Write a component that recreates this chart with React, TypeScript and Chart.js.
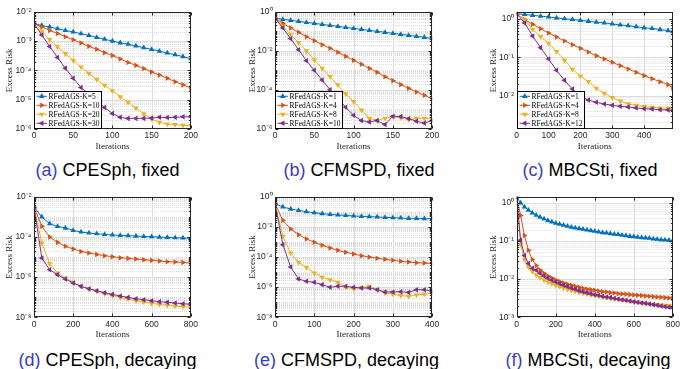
import React, { useEffect, useRef } from 'react';
import { Chart, registerables } from 'chart.js';

Chart.register(...registerables);

// ---------------- data ----------------
const itersA = [0, 10, 20, 30, 40, 50, 60, 70, 80, 90, 100, 110, 120, 130, 140, 150, 160, 170, 180, 190, 200];
const aK5 = [3.89e-3, 3.39e-3, 3.02e-3, 2.63e-3, 2.29e-3, 2.04e-3, 1.78e-3, 1.55e-3, 1.33e-3, 1.15e-3, 1.0e-3, 8.7e-4, 7.8e-4, 6.8e-4, 5.9e-4, 5.2e-4, 4.5e-4, 3.9e-4, 3.4e-4, 2.95e-4, 2.5e-4];
const aK10 = [3.89e-3, 3.02e-3, 2.29e-3, 1.82e-3, 1.41e-3, 1.11e-3, 8.5e-4, 6.6e-4, 5.2e-4, 4.0e-4, 3.2e-4, 2.45e-4, 1.86e-4, 1.48e-4, 1.15e-4, 8.7e-5, 6.9e-5, 5.4e-5, 4.1e-5, 3.2e-5, 2.5e-5];
const aK20 = [3.89e-3, 2.14e-3, 1.11e-3, 6.3e-4, 3.7e-4, 2.2e-4, 1.29e-4, 7.9e-5, 4.9e-5, 3.1e-5, 2.0e-5, 1.26e-5, 8.1e-6, 5.2e-6, 3.3e-6, 2.2e-6, 1.7e-6, 1.48e-6, 1.41e-6, 1.33e-6, 1.3e-6];
const aK30 = [3.89e-3, 1.6e-3, 6.5e-4, 2.75e-4, 1.17e-4, 5.4e-5, 2.6e-5, 1.55e-5, 9.8e-6, 5.4e-6, 3.4e-6, 2.5e-6, 2.3e-6, 2.3e-6, 2.3e-6, 2.37e-6, 2.5e-6, 2.45e-6, 2.5e-6, 2.6e-6, 2.6e-6];

const itersB = [0, 10, 20, 30, 40, 50, 60, 70, 80, 90, 100, 110, 120, 130, 140, 150, 160, 170, 180, 190, 200];
const bK1 = [0.474, 0.406, 0.361, 0.321, 0.285, 0.254, 0.225, 0.2, 0.178, 0.158, 0.141, 0.125, 0.111, 0.099, 0.088, 0.078, 0.0695, 0.0618, 0.055, 0.049, 0.0417];
const bK4 = [0.474, 0.254, 0.146, 0.0879, 0.0527, 0.033, 0.0206, 0.0134, 8.36e-3, 5.2e-3, 3.26e-3, 2.03e-3, 1.27e-3, 7.9e-4, 4.76e-4, 2.98e-4, 1.86e-4, 1.21e-4, 7.8e-5, 5.3e-5, 3.6e-5];
const bK8 = [0.474, 0.178, 0.0695, 0.026, 9.8e-3, 3.4e-3, 1.27e-3, 4.8e-4, 1.79e-4, 6.2e-5, 2.5e-5, 9.4e-6, 3.55e-6, 2.7e-6, 3.55e-6, 4.3e-6, 3.7e-6, 3.0e-6, 3.55e-6, 3.55e-6, 3.2e-6];
const bK10 = [0.474, 0.146, 0.0417, 0.0114, 3.13e-3, 1.0e-3, 3.2e-4, 1.03e-4, 3.6e-5, 1.3e-5, 5.0e-6, 2.7e-6, 2.3e-6, 2.7e-6, 1.68e-6, 4.5e-6, 4.3e-6, 3.4e-6, 2.5e-6, 2.0e-6, 2.7e-6];

const itersC = [0, 25, 50, 75, 100, 125, 150, 175, 200, 225, 250, 275, 300, 325, 350, 375, 400, 425, 450, 475, 490];
const cK1 = [1.38, 1.31, 1.25, 1.19, 1.13, 1.07, 1.02, 0.97, 0.92, 0.87, 0.83, 0.79, 0.74, 0.70, 0.67, 0.63, 0.59, 0.565, 0.53, 0.50, 0.47];
const cK4 = [1.38, 0.96, 0.726, 0.56, 0.43, 0.339, 0.267, 0.214, 0.172, 0.138, 0.110, 0.0906, 0.0741, 0.0607, 0.0497, 0.0406, 0.0333, 0.0277, 0.0232, 0.0194, 0.0158];
const cK8 = [1.38, 0.98, 0.537, 0.346, 0.232, 0.141, 0.0851, 0.0486, 0.0326, 0.0232, 0.0155, 0.0115, 8.87e-3, 7.26e-3, 6.07e-3, 5.6e-3, 5.16e-3, 4.97e-3, 4.77e-3, 4.68e-3, 4.58e-3];
const cK12 = [1.38, 0.787, 0.361, 0.179, 0.0906, 0.0458, 0.0251, 0.0149, 9.6e-3, 7.7e-3, 6.7e-3, 6.07e-3, 5.6e-3, 5.27e-3, 5.06e-3, 4.77e-3, 4.58e-3, 4.49e-3, 4.31e-3, 4.23e-3, 4.14e-3];

const itersD = [0, 40, 80, 120, 160, 200, 240, 280, 320, 360, 400, 440, 480, 520, 560, 600, 640, 680, 720, 760, 800];
const dK5 = [3.06e-3, 9.8e-4, 4.54e-4, 3.34e-4, 2.76e-4, 2.11e-4, 1.75e-4, 1.56e-4, 1.44e-4, 1.34e-4, 1.24e-4, 1.19e-4, 1.15e-4, 1.1e-4, 1.06e-4, 1.02e-4, 9.8e-5, 9.5e-5, 9.1e-5, 8.8e-5, 8.5e-5];
const dK10 = [3.06e-3, 3.34e-4, 9.8e-5, 5.35e-5, 3.39e-5, 2.5e-5, 1.9e-5, 1.57e-5, 1.35e-5, 1.16e-5, 1.04e-5, 9.2e-6, 8.55e-6, 7.9e-6, 7.35e-6, 6.8e-6, 6.3e-6, 5.8e-6, 5.6e-6, 5.4e-6, 5.0e-6];
const dK20 = [3.06e-3, 4.95e-5, 4.65e-6, 1.6e-6, 9.0e-7, 5.47e-7, 3.47e-7, 2.55e-7, 1.95e-7, 1.49e-7, 1.19e-7, 9.8e-8, 8.1e-8, 6.7e-8, 5.75e-8, 4.93e-8, 4.4e-8, 3.93e-8, 3.63e-8, 3.37e-8, 3.12e-8];
const dK30 = [3.06e-3, 8.9e-6, 2.33e-6, 1.31e-6, 8.0e-7, 5.07e-7, 3.46e-7, 2.65e-7, 2.1e-7, 1.67e-7, 1.38e-7, 1.14e-7, 9.8e-8, 8.4e-8, 7.5e-8, 6.7e-8, 5.97e-8, 5.53e-8, 5.13e-8, 4.75e-8, 4.4e-8];

const itersE = [0, 20, 40, 60, 80, 100, 120, 140, 160, 180, 200, 220, 240, 260, 280, 300, 320, 340, 360, 380, 400];
const eK1 = [0.343, 0.207, 0.152, 0.124, 0.101, 0.0869, 0.0747, 0.0675, 0.061, 0.0578, 0.0523, 0.0497, 0.0472, 0.0449, 0.0427, 0.0406, 0.0385, 0.0366, 0.0366, 0.0348, 0.0348];
const eK4 = [0.343, 0.027, 7.18e-3, 3.03e-3, 1.56e-3, 9.4e-4, 5.93e-4, 3.95e-4, 2.77e-4, 2.04e-4, 1.58e-4, 1.22e-4, 1.0e-4, 8.2e-5, 7.0e-5, 6.0e-5, 5.16e-5, 4.67e-5, 4.2e-5, 4.0e-5, 3.6e-5];
const eK8 = [0.343, 2.34e-3, 1.84e-4, 4.43e-5, 1.96e-5, 8.7e-6, 4.5e-6, 3.0e-6, 2.1e-6, 9.7e-7, 7.9e-7, 9.7e-7, 1.14e-6, 6.8e-7, 4.1e-7, 3.5e-7, 2.73e-7, 2.47e-7, 3.0e-7, 3.35e-7, 4.1e-7];
const eK10 = [0.343, 6.58e-4, 2.17e-5, 3.48e-6, 2.44e-6, 2.09e-6, 1.47e-6, 9.7e-7, 1.14e-6, 1.14e-6, 9.7e-7, 8.8e-7, 8.8e-7, 6.8e-7, 4.8e-7, 4.8e-7, 5.0e-7, 4.5e-7, 6.8e-7, 6.8e-7, 5.3e-7];

const itersF = [0, 20, 40, 60, 80, 100, 120, 140, 160, 180, 200, 220, 240, 260, 280, 300, 320, 340, 360, 380, 400, 420, 440, 460, 480, 500, 520, 540, 560, 580, 600, 620, 640, 660, 680, 700, 720, 740, 760, 780, 800];
const fK1 = [1.41, 1.0, 0.785, 0.642, 0.547, 0.475, 0.421, 0.38, 0.344, 0.317, 0.292, 0.275, 0.259, 0.244, 0.23, 0.221, 0.212, 0.204, 0.195, 0.188, 0.18, 0.173, 0.166, 0.163, 0.157, 0.151, 0.148, 0.142, 0.139, 0.133, 0.131, 0.126, 0.123, 0.121, 0.118, 0.1135, 0.111, 0.109, 0.107, 0.105, 0.1026];
const fK4 = [1.41, 0.465, 0.139, 0.0573, 0.0326, 0.0227, 0.0174, 0.01426, 0.01213, 0.01074, 9.52e-3, 8.61e-3, 7.94e-3, 7.33e-3, 6.9e-3, 6.5e-3, 6.12e-3, 5.75e-3, 5.53e-3, 5.31e-3, 5.1e-3, 4.9e-3, 4.71e-3, 4.61e-3, 4.43e-3, 4.34e-3, 4.17e-3, 4.09e-3, 4.01e-3, 3.93e-3, 3.85e-3, 3.77e-3, 3.7e-3, 3.62e-3, 3.55e-3, 3.48e-3, 3.41e-3, 3.34e-3, 3.28e-3, 3.21e-3, 3.15e-3];
const fK8 = [1.41, 0.0806, 0.0326, 0.0209, 0.0158, 0.0129, 0.011, 9.52e-3, 8.45e-3, 7.64e-3, 6.9e-3, 6.37e-3, 5.87e-3, 5.42e-3, 5.1e-3, 4.8e-3, 4.52e-3, 4.26e-3, 4.09e-3, 3.85e-3, 3.7e-3, 3.55e-3, 3.41e-3, 3.28e-3, 3.15e-3, 3.02e-3, 2.9e-3, 2.85e-3, 2.73e-3, 2.62e-3, 2.57e-3, 2.47e-3, 2.42e-3, 2.33e-3, 2.28e-3, 2.19e-3, 2.15e-3, 2.1e-3, 2.06e-3, 2.02e-3, 1.94e-3];
const fK12 = [1.41, 0.105, 0.0415, 0.0256, 0.0193, 0.0171, 0.01426, 0.01213, 0.01054, 9.33e-3, 8.45e-3, 7.64e-3, 6.9e-3, 6.37e-3, 5.87e-3, 5.42e-3, 5.0e-3, 4.71e-3, 4.43e-3, 4.17e-3, 3.93e-3, 3.77e-3, 3.55e-3, 3.41e-3, 3.28e-3, 3.15e-3, 3.02e-3, 2.9e-3, 2.79e-3, 2.68e-3, 2.57e-3, 2.47e-3, 2.37e-3, 2.33e-3, 2.23e-3, 2.15e-3, 2.06e-3, 1.98e-3, 1.9e-3, 1.83e-3, 1.75e-3];

const legendA = ['RFedAGS-K=5', 'RFedAGS-K=10', 'RFedAGS-K=20', 'RFedAGS-K=30'];
const legendB = ['RFedAGS-K=1', 'RFedAGS-K=4', 'RFedAGS-K=8', 'RFedAGS-K=10'];
const legendC = ['RFedAGS-K=1', 'RFedAGS-K=4', 'RFedAGS-K=8', 'RFedAGS-K=12'];

const xTicks200 = [0, 50, 100, 150, 200];
const xTicks400 = [0, 100, 200, 300, 400];
const xTicks800 = [0, 200, 400, 600, 800];

// ---------------- styles / layout ----------------
const COLORS = ['#0072BD', '#D95319', '#EDB120', '#7E2F8E'];
const ROTATIONS = [0, 90, 180, 270];
const TICK_FONT = { family: '"Liberation Sans", Arial, Helvetica, sans-serif', size: 8.5 };
const TITLE_FONT = { family: '"Liberation Serif", "Times New Roman", serif', size: 9 };
const AX = '#262626';

const COLS = [
  { canvasLeft: 4, plotL: 34, plotR: 190.8, capX: 107.5 },
  { canvasLeft: 247, plotL: 275, plotR: 432.2, capX: 359 },
  { canvasLeft: 488, plotL: 516.7, plotR: 672.8, capX: 590 },
];
const ROWS = [
  { canvasTop: 4, plotT: 11.7, plotB: 129, canvasBottom: 152, capTop: 160.8 },
  { canvasTop: 189, plotT: 196.7, plotB: 317.3, canvasBottom: 340, capTop: 350.8 },
];

type PanelDef = {
  tag: string; caption: string;
  x: number[]; series: number[][]; legend: string[] | null;
  yMin: number; yMax: number; yStep: number; xMax: number; xTicks: number[];
  col: number; row: number; capX?: number;
};

const PANELS: PanelDef[] = [
  { tag: '(a)', caption: 'CPESph, fixed', x: itersA, series: [aK5, aK10, aK20, aK30], legend: legendA, yMin: 1e-6, yMax: 1e-2, yStep: 1, xMax: 200, xTicks: xTicks200, col: 0, row: 0 },
  { tag: '(b)', caption: 'CFMSPD, fixed', x: itersB, series: [bK1, bK4, bK8, bK10], legend: legendB, yMin: 1e-6, yMax: 1, yStep: 2, xMax: 200, xTicks: xTicks200, col: 1, row: 0 },
  { tag: '(c)', caption: 'MBCSti, fixed', x: itersC, series: [cK1, cK4, cK8, cK12], legend: legendC, yMin: 1.35e-3, yMax: 1.55, yStep: 1, xMax: 490, xTicks: xTicks400, col: 2, row: 0 },
  { tag: '(d)', caption: 'CPESph, decaying', x: itersD, series: [dK5, dK10, dK20, dK30], legend: null, yMin: 1e-8, yMax: 1e-2, yStep: 2, xMax: 800, xTicks: xTicks800, col: 0, row: 1 },
  { tag: '(e)', caption: 'CFMSPD, decaying', x: itersE, series: [eK1, eK4, eK8, eK10], legend: null, yMin: 1e-8, yMax: 1, yStep: 2, xMax: 400, xTicks: xTicks400, col: 1, row: 1, capX: 346.5 },
  { tag: '(f)', caption: 'MBCSti, decaying', x: itersF, series: [fK1, fK4, fK8, fK12], legend: null, yMin: 1e-3, yMax: 1.45, yStep: 1, xMax: 800, xTicks: xTicks800, col: 2, row: 1, capX: 588 },
];

const SUP: Record<string, string> = { '-': '\u207B', '0': '\u2070', '1': '\u00B9', '2': '\u00B2', '3': '\u00B3', '4': '\u2074', '5': '\u2075', '6': '\u2076', '7': '\u2077', '8': '\u2078', '9': '\u2079' };

function decade(v: number): number | null {
  const e = Math.log10(v);
  const r = Math.round(e);
  return Math.abs(e - r) < 1e-6 ? r : null;
}

function drawTri(ctx: CanvasRenderingContext2D, x: number, y: number, r: number, rotDeg: number) {
  let rad = (rotDeg * Math.PI) / 180;
  ctx.beginPath();
  ctx.moveTo(x + Math.sin(rad) * r, y - Math.cos(rad) * r);
  rad += (2 * Math.PI) / 3;
  ctx.lineTo(x + Math.sin(rad) * r, y - Math.cos(rad) * r);
  rad += (2 * Math.PI) / 3;
  ctx.lineTo(x + Math.sin(rad) * r, y - Math.cos(rad) * r);
  ctx.closePath();
  ctx.fill();
}

function Panel({ p }: { p: PanelDef }) {
  const ref = useRef<HTMLCanvasElement | null>(null);
  const col = COLS[p.col];
  const row = ROWS[p.row];
  const width = Math.ceil(col.plotR + 10 - col.canvasLeft);
  const height = row.canvasBottom - row.canvasTop;

  useEffect(() => {
    if (!ref.current) return;
    const padRight = col.canvasLeft + width - col.plotR;
    const padTop = row.plotT - row.canvasTop;
    const yW = col.plotL - col.canvasLeft;
    const xH = row.canvasBottom - row.plotB;
    const isMajor = (v: number) => {
      const d = decade(v);
      return d !== null && d % p.yStep === 0;
    };

    const gridPlugin = {
      id: 'mgrid',
      beforeDatasetsDraw(chart: any) {
        const { ctx, chartArea: a } = chart;
        const xs = chart.scales.x;
        const ys = chart.scales.y;
        ctx.save();
        ctx.beginPath();
        ctx.rect(a.left, a.top, a.right - a.left, a.bottom - a.top);
        ctx.clip();
        // minor horizontal (dotted)
        ctx.lineWidth = 0.6;
        ctx.strokeStyle = '#c9c9c9';
        ctx.setLineDash([1, 1]);
        ys.ticks.forEach((t: any) => {
          if (isMajor(t.value)) return;
          const py = Math.round(ys.getPixelForValue(t.value)) + 0.5;
          ctx.beginPath(); ctx.moveTo(a.left, py); ctx.lineTo(a.right, py); ctx.stroke();
        });
        ctx.setLineDash([]);
        ctx.lineWidth = 1;
        ctx.strokeStyle = '#dedede';
        ys.ticks.forEach((t: any) => {
          if (!isMajor(t.value)) return;
          const py = Math.round(ys.getPixelForValue(t.value)) + 0.5;
          ctx.beginPath(); ctx.moveTo(a.left, py); ctx.lineTo(a.right, py); ctx.stroke();
        });
        xs.ticks.forEach((t: any) => {
          const px = Math.round(xs.getPixelForValue(t.value)) + 0.5;
          ctx.beginPath(); ctx.moveTo(px, a.top); ctx.lineTo(px, a.bottom); ctx.stroke();
        });
        ctx.restore();
      },
      afterDatasetsDraw(chart: any) {
        const { ctx, chartArea: a } = chart;
        const xs = chart.scales.x;
        const ys = chart.scales.y;
        const L = Math.round(a.left) + 0.5, R = Math.round(a.right) - 0.5;
        const T = Math.round(a.top) + 0.5, B = Math.round(a.bottom) - 0.5;
        ctx.save();
        ctx.strokeStyle = AX;
        ctx.lineWidth = 1;
        // ticks
        ys.ticks.forEach((t: any) => {
          const py = Math.round(ys.getPixelForValue(t.value)) + 0.5;
          const len = isMajor(t.value) ? 3 : 1.6;
          ctx.beginPath();
          ctx.moveTo(L, py); ctx.lineTo(L + len, py);
          ctx.moveTo(R, py); ctx.lineTo(R - len, py);
          ctx.stroke();
        });
        xs.ticks.forEach((t: any) => {
          const px = Math.round(xs.getPixelForValue(t.value)) + 0.5;
          ctx.beginPath();
          ctx.moveTo(px, B); ctx.lineTo(px, B - 3);
          ctx.moveTo(px, T); ctx.lineTo(px, T + 3);
          ctx.stroke();
        });
        ctx.strokeRect(L, T, R - L, B - T);

        // legend
        if (p.legend) {
          const bw = 67, bh = 37;
          const bx = L, by = B - bh;
          ctx.fillStyle = '#ffffff';
          ctx.fillRect(bx, by, bw, bh);
          ctx.strokeStyle = '#000000';
          ctx.strokeRect(bx, by, bw, bh);
          ctx.font = '7.5px "Liberation Serif", "Times New Roman", serif';
          ctx.textBaseline = 'middle';
          ctx.textAlign = 'left';
          p.legend.forEach((lab, i) => {
            const cy = by + 4.8 + i * 9;
            ctx.strokeStyle = COLORS[i];
            ctx.lineWidth = 1;
            ctx.beginPath(); ctx.moveTo(bx + 2, cy); ctx.lineTo(bx + 12.5, cy); ctx.stroke();
            ctx.fillStyle = COLORS[i];
            drawTri(ctx, bx + 7.3, cy, 3.2, ROTATIONS[i]);
            ctx.fillStyle = '#000000';
            ctx.fillText(lab, bx + 14, cy + 0.3);
          });
        }
        ctx.restore();
      },
    };

    const chart = new Chart(ref.current, {
      type: 'line',
      data: {
        datasets: p.series.map((s, i) => ({
          label: p.legend ? p.legend[i] : 'series ' + (i + 1),
          data: p.x.map((xv, j) => ({ x: xv, y: s[j] })),
          borderColor: COLORS[i],
          backgroundColor: COLORS[i],
          borderWidth: 1,
          pointStyle: 'triangle',
          pointRotation: ROTATIONS[i],
          pointRadius: 3.2,
          pointBorderWidth: 0,
          pointBackgroundColor: COLORS[i],
          pointBorderColor: COLORS[i],
          tension: 0,
          order: 3 - i,
        })),
      },
      options: {
        responsive: false,
        animation: false,
        devicePixelRatio: 1,
        events: [],
        layout: { padding: { top: padTop, right: padRight, left: 0, bottom: 0 } },
        plugins: { legend: { display: false }, tooltip: { enabled: false } },
        scales: {
          x: {
            type: 'linear',
            min: 0,
            max: p.xMax,
            afterBuildTicks: (s: any) => { s.ticks = p.xTicks.map((v) => ({ value: v })); },
            afterFit: (s: any) => { s.height = xH; },
            ticks: { autoSkip: false, maxRotation: 0, minRotation: 0, padding: 2, font: TICK_FONT, color: AX },
            grid: { display: false, drawTicks: false },
            border: { display: false },
            title: { display: true, text: 'Iterations', font: TITLE_FONT, color: AX, padding: 0 },
          },
          y: {
            type: 'logarithmic',
            min: p.yMin,
            max: p.yMax,
            afterBuildTicks: (s: any) => {
              const out: { value: number }[] = [];
              const e0 = Math.floor(Math.log10(p.yMin));
              const e1 = Math.ceil(Math.log10(p.yMax));
              for (let e = e0; e <= e1; e++) {
                for (let m = 1; m <= 9; m++) {
                  const v = m * Math.pow(10, e);
                  if (v >= p.yMin * (1 - 1e-9) && v <= p.yMax * (1 + 1e-9)) out.push({ value: v });
                }
              }
              s.ticks = out;
            },
            afterFit: (s: any) => { s.width = yW; },
            ticks: {
              autoSkip: false,
              padding: 2.5,
              font: TICK_FONT,
              color: AX,
              callback: (v: any) => {
                const d = decade(Number(v));
                if (d === null || d % p.yStep !== 0) return '';
                return '10' + String(d).split('').map((c) => SUP[c] || c).join('');
              },
            },
            grid: { display: false, drawTicks: false },
            border: { display: false },
            title: { display: true, text: 'Excess Risk', font: TITLE_FONT, color: AX, padding: 0 },
          },
        },
      } as any,
      plugins: [gridPlugin],
    } as any);
    return () => chart.destroy();
  }, []);

  return (
    <canvas
      ref={ref}
      width={width}
      height={height}
      style={{ position: 'absolute', left: col.canvasLeft, top: row.canvasTop, width, height }}
    />
  );
}

function Caption({ p }: { p: PanelDef }) {
  const cx = p.capX ?? COLS[p.col].capX;
  const top = ROWS[p.row].capTop;
  return (
    <div
      style={{
        position: 'absolute', left: cx - 150, width: 300, top, textAlign: 'center',
        fontFamily: '"Liberation Sans", Arial, Helvetica, sans-serif', fontSize: 18, lineHeight: '18px',
        whiteSpace: 'nowrap', color: '#000',
      }}
    >
      <span style={{ color: '#3c3cbe' }}>{p.tag}</span> {p.caption}
    </div>
  );
}

export default function App() {
  return (
    <div style={{ position: 'absolute', left: 0, top: 0, width: 680, height: 369, overflow: 'hidden', background: '#fff' }}>
      {PANELS.map((p, i) => (
        <React.Fragment key={i}>
          <Panel p={p} />
          <Caption p={p} />
        </React.Fragment>
      ))}
    </div>
  );
}
